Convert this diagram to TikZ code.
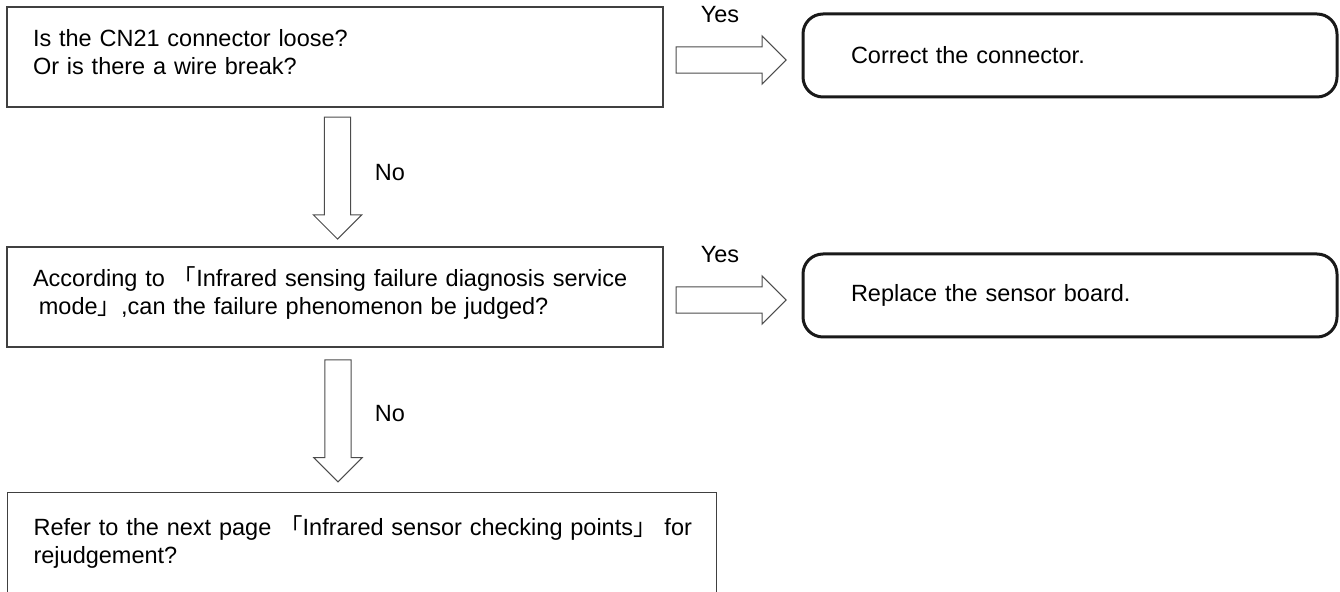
\documentclass[tikz,border=0pt]{standalone}
\usepackage{fontspec}
\setmainfont{Liberation Sans}
\newfontfamily\cjk{Noto Sans CJK JP}
\usepackage{tikz}
\usetikzlibrary{shapes.arrows, calc}
\newcommand{\openq}{{\cjk 「}}
\newcommand{\closeq}{{\cjk 」}}

\begin{document}
\begin{tikzpicture}[x=0.5pt, y=-0.5pt,
    every node/.style={font=\fontsize{11.75pt}{14pt}\selectfont},
    qbox/.style={draw=black!75, line width=0.6pt, align=left, inner xsep=13pt},
    abox/.style={draw=black!90, line width=1.5pt, rounded corners=10pt, align=left,
                 inner xsep=24pt, text width=219pt, minimum height=41.5pt},
    fatarrow/.style={single arrow, draw=black!70, line width=0.5pt, inner xsep=0pt,
                     inner ysep=6.3pt, single arrow head extend=5.5pt}]
        % Page frame
        \path[use as bounding box, clip] (0,0) rectangle (1340,592);
        % Questions
        \node[qbox, text width=302pt, minimum height=50pt, text height=9pt,
              text depth=19pt] (q1) at (335,57)
              {Is the CN21 connector loose?\\Or is there a wire break?};
        \node[qbox, text width=302pt, minimum height=50pt, text height=9pt,
              text depth=19pt] (q2) at (335,297)
              {According to \openq Infrared sensing failure diagnosis service\\
               \hspace*{.25em}mode\closeq,can the failure phenomenon be judged?};
        \node[qbox, text width=328.5pt, anchor=north west, inner ysep=0pt,
              text height=21.5pt, text depth=60pt] (q3) at (7,492)
              {\mbox{Refer to the next page \openq Infrared sensor checking points\closeq\ for}\\
               rejudgement?};
        % Answers
        \node[abox] (a1) at (1070,55.5) {Correct the connector.};
        \node[abox] (a2) at (1070,295.5) {Replace the sensor board.};
        % Yes arrows
        \node[fatarrow, minimum height=55pt] (y1) at ($(q1.east)+(61,3)$) {};
        \node[fatarrow, minimum height=55pt] (y2) at ($(q2.east)+(61,3)$) {};
        \node (yes1) at (720,15) {Yes};
        \node (yes2) at (720,255) {Yes};
        % No arrows
        \node[fatarrow, rotate=-90, minimum height=61pt] (n1)
              at ($(q1.south)!.5!(q2.north)+(2.5,-5.5)$) {};
        \node[fatarrow, rotate=-90, minimum height=61pt] (n2)
              at ($(q2.south)!.5!(q2.south |- q3.north)+(3,-5.5)$) {};
        \node (no1) at (390,173) {No};
        \node (no2) at (390,414) {No};
\end{tikzpicture}
\end{document}
